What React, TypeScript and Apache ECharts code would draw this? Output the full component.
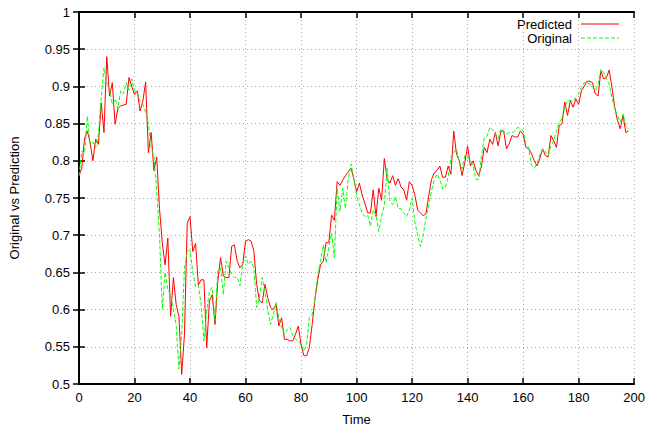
import React, { useEffect, useRef } from "react";
import * as echarts from "echarts";

const predicted = [
  0.780, 0.790, 0.830, 0.840, 0.825, 0.800, 0.829, 0.822, 0.878, 0.838,
  0.940, 0.887, 0.905, 0.849, 0.870, 0.874, 0.875, 0.876, 0.912, 0.900,
  0.889, 0.894, 0.867, 0.880, 0.906, 0.811, 0.838, 0.787, 0.805, 0.736,
  0.690, 0.660, 0.696, 0.591, 0.643, 0.607, 0.591, 0.513, 0.567, 0.716,
  0.725, 0.678, 0.689, 0.633, 0.640, 0.640, 0.549, 0.612, 0.620, 0.580,
  0.638, 0.670, 0.645, 0.643, 0.643, 0.685, 0.687, 0.665, 0.656, 0.661,
  0.692, 0.694, 0.692, 0.679, 0.634, 0.612, 0.609, 0.634, 0.616, 0.603,
  0.600, 0.607, 0.578, 0.589, 0.560, 0.560, 0.558, 0.558, 0.567, 0.578,
  0.553, 0.538, 0.538, 0.549, 0.580, 0.614, 0.640, 0.660, 0.665, 0.690,
  0.690, 0.727, 0.720, 0.772, 0.767, 0.774, 0.780, 0.785, 0.790, 0.776,
  0.758, 0.770, 0.754, 0.743, 0.730, 0.730, 0.761, 0.725, 0.763, 0.747,
  0.803, 0.776, 0.770, 0.780, 0.767, 0.776, 0.765, 0.761, 0.747, 0.772,
  0.767, 0.754, 0.734, 0.730, 0.726, 0.729, 0.753, 0.775, 0.784, 0.787,
  0.793, 0.778, 0.778, 0.793, 0.782, 0.840, 0.809, 0.800, 0.780, 0.798,
  0.820, 0.793, 0.800, 0.787, 0.780, 0.793, 0.818, 0.811, 0.829, 0.822,
  0.838, 0.820, 0.840, 0.840, 0.816, 0.823, 0.834, 0.832, 0.832, 0.840,
  0.836, 0.818, 0.816, 0.810, 0.800, 0.793, 0.803, 0.816, 0.807, 0.805,
  0.834, 0.827, 0.818, 0.847, 0.850, 0.879, 0.861, 0.881, 0.872, 0.883,
  0.876, 0.894, 0.900, 0.907, 0.907, 0.905, 0.890, 0.887, 0.921, 0.910,
  0.912, 0.922, 0.899, 0.872, 0.854, 0.843, 0.861, 0.838, 0.840,
];

const original = [
  0.780, 0.813, 0.810, 0.860, 0.822, 0.825, 0.818, 0.836, 0.885, 0.925,
  0.905, 0.898, 0.876, 0.883, 0.870, 0.894, 0.890, 0.905, 0.895, 0.910,
  0.894, 0.892, 0.880, 0.876, 0.865, 0.850, 0.818, 0.805, 0.760, 0.700,
  0.600, 0.650, 0.627, 0.620, 0.600, 0.580, 0.520, 0.567, 0.656, 0.678,
  0.680, 0.650, 0.631, 0.633, 0.607, 0.558, 0.598, 0.625, 0.630, 0.585,
  0.652, 0.656, 0.620, 0.665, 0.656, 0.647, 0.643, 0.643, 0.632, 0.661,
  0.672, 0.661, 0.665, 0.656, 0.603, 0.616, 0.643, 0.623, 0.600, 0.580,
  0.594, 0.610, 0.589, 0.576, 0.567, 0.573, 0.576, 0.565, 0.560, 0.558,
  0.553, 0.544, 0.553, 0.589, 0.593, 0.614, 0.647, 0.665, 0.687, 0.663,
  0.683, 0.703, 0.670, 0.763, 0.732, 0.763, 0.736, 0.776, 0.796, 0.776,
  0.754, 0.741, 0.730, 0.725, 0.727, 0.712, 0.734, 0.727, 0.705, 0.725,
  0.741, 0.790, 0.745, 0.741, 0.752, 0.736, 0.736, 0.730, 0.725, 0.734,
  0.750, 0.718, 0.700, 0.685, 0.700, 0.723, 0.740, 0.760, 0.775, 0.782,
  0.775, 0.762, 0.764, 0.778, 0.805, 0.811, 0.816, 0.798, 0.789, 0.807,
  0.805, 0.800, 0.793, 0.775, 0.775, 0.807, 0.831, 0.833, 0.845, 0.842,
  0.836, 0.830, 0.843, 0.840, 0.836, 0.838, 0.838, 0.840, 0.845, 0.843,
  0.840, 0.823, 0.818, 0.794, 0.790, 0.796, 0.808, 0.816, 0.812, 0.807,
  0.820, 0.827, 0.840, 0.852, 0.856, 0.872, 0.881, 0.881, 0.880, 0.885,
  0.890, 0.899, 0.905, 0.905, 0.903, 0.900, 0.894, 0.903, 0.923, 0.919,
  0.910, 0.903, 0.885, 0.870, 0.861, 0.852, 0.863, 0.847, 0.843,
];

const seriesNames = ["Predicted", "Original"];
const xTitle = "Time";
const yTitle = "Original vs Prediction";

const FONT = "'Liberation Sans', Arial, Helvetica, sans-serif";

export default function App() {
  const ref = useRef<HTMLDivElement>(null);
  useEffect(() => {
    if (!ref.current) return;
    const chart = echarts.init(ref.current, null, { renderer: "svg" });
    const axisLine = { show: true, lineStyle: { color: "#000", width: 2 } };
    const tick = { show: true, inside: true, length: 6, lineStyle: { color: "#000", width: 1.5 } };
    const split = { show: true, lineStyle: { color: "#a8a8a8", type: [1, 3] as any, width: 1 } };
    const label = { color: "#000", fontSize: 13, fontFamily: FONT };
    chart.setOption({
      animation: false,
      backgroundColor: "#fff",
      grid: { left: 79, right: 12, top: 12, bottom: 44 },
      xAxis: [
        {
          type: "value", min: 0, max: 200, interval: 20, position: "bottom",
          axisLine, axisTick: tick, splitLine: split,
          axisLabel: { ...label, margin: 7 },
          name: xTitle, nameLocation: "middle", nameGap: 29,
          nameTextStyle: { color: "#000", fontSize: 13, fontFamily: FONT },
        },
        {
          type: "value", min: 0, max: 200, interval: 20, position: "top",
          axisLine, axisTick: tick, splitLine: { show: false }, axisLabel: { show: false },
        },
      ],
      yAxis: [
        {
          type: "value", min: 0.5, max: 1, interval: 0.05, position: "left",
          axisLine, axisTick: tick, splitLine: split,
          axisLabel: { ...label, margin: 9 },
          name: yTitle, nameLocation: "middle", nameGap: 58,
          nameTextStyle: { color: "#000", fontSize: 13, fontFamily: FONT },
        },
        {
          type: "value", min: 0.5, max: 1, interval: 0.05, position: "right",
          axisLine, axisTick: tick, splitLine: { show: false }, axisLabel: { show: false },
        },
      ],
      series: [
        {
          name: seriesNames[0], type: "line", showSymbol: false, symbol: "none",
          data: predicted.map((v, i) => [i, v]),
          lineStyle: { color: "#ff0000", width: 1 },
          z: 3,
        },
        {
          name: seriesNames[1], type: "line", showSymbol: false, symbol: "none",
          data: original.map((v, i) => [i, v]),
          lineStyle: { color: "#00ff00", width: 1, type: [4, 2] as any },
          z: 4,
        },
      ],
      graphic: [
        { type: "text", x: 572, y: 24, style: { text: seriesNames[0], align: "right", verticalAlign: "middle", fontSize: 13, fontFamily: FONT, fill: "#000" } },
        { type: "line", shape: { x1: 581, y1: 24, x2: 619, y2: 24 }, style: { stroke: "#ff0000", lineWidth: 1 } },
        { type: "text", x: 572, y: 38, style: { text: seriesNames[1], align: "right", verticalAlign: "middle", fontSize: 13, fontFamily: FONT, fill: "#000" } },
        { type: "line", shape: { x1: 581, y1: 38, x2: 619, y2: 38 }, style: { stroke: "#00ff00", lineWidth: 1, lineDash: [4, 2] } },
      ],
    });
    return () => chart.dispose();
  }, []);
  return <div ref={ref} style={{ position: "fixed", left: 0, top: 0, width: 648, height: 431 }} />;
}
